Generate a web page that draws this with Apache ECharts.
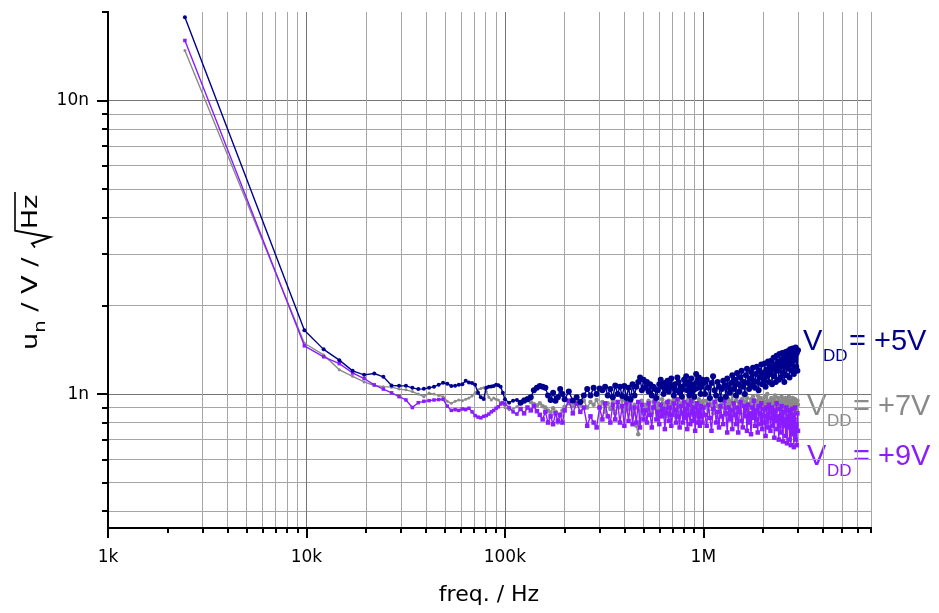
<!DOCTYPE html>
<html>
<head>
<meta charset="utf-8">
<script src="https://cdn.jsdelivr.net/npm/echarts@6/dist/echarts.min.js"></script>
<style>
html,body{margin:0;padding:0;background:#fff;}
#chart{width:939px;height:613px;}
</style>
</head>
<body>
<div id="chart"></div>
<script>
// ---------------- data ----------------
// frequencies in Hz (FFT bins at low f, then the dense part)
const freqs = [
  2441, 9766, 12207, 14648, 17090, 19531, 21973, 24414, 26855, 29297,
  31738, 34180, 36621, 39063, 41504, 43945, 46387, 48828, 51270, 53711,
  56152, 58594, 61035, 63477, 65918, 68359, 70801, 73242, 75684, 78125,
  80566, 83008, 85449, 87891, 90332, 92773, 95215, 97656, 100098,
  105000, 110000, 115000, 120000, 125000, 130000, 135000, 140000, 145000, 150000,
  155000, 160000, 165000, 170000, 175000, 180000, 185000, 190000, 195000, 200000,
  210000, 220000, 230000, 240000, 250000, 260000, 270000, 280000, 290000, 300000,
  310000, 320000, 330000, 340000, 350000, 360000, 370000, 380000, 390000, 400000,
  410000, 420000, 430000, 440000, 450000, 460000, 470000, 480000, 490000, 500000,
  510000, 520000, 530000, 540000, 550000, 560000, 570000, 580000, 590000, 600000,
  610000, 620000, 630000, 640000, 650000, 660000, 670000, 680000, 690000, 700000,
  710000, 720000, 730000, 740000, 750000, 760000, 770000, 780000, 790000, 800000,
  810000, 820000, 830000, 840000, 850000, 860000, 870000, 880000, 890000, 900000,
  910000, 920000, 930000, 940000, 950000, 960000, 970000, 980000, 990000, 1000000,
  1020000, 1040000, 1060000, 1080000, 1100000, 1120000, 1140000, 1160000, 1180000, 1200000,
  1220000, 1240000, 1260000, 1280000, 1300000, 1320000, 1340000, 1360000, 1380000, 1400000,
  1420000, 1440000, 1460000, 1480000, 1500000, 1520000, 1540000, 1560000, 1580000, 1600000,
  1620000, 1640000, 1660000, 1680000, 1700000, 1720000, 1740000, 1760000, 1780000, 1800000,
  1820000, 1840000, 1860000, 1880000, 1900000, 1920000, 1940000, 1960000, 1980000, 2000000,
  2020000, 2040000, 2060000, 2080000, 2100000, 2120000, 2140000, 2160000, 2180000, 2200000,
  2220000, 2240000, 2260000, 2280000, 2300000, 2320000, 2340000, 2360000, 2380000, 2400000,
  2420000, 2440000, 2460000, 2480000, 2500000, 2520000, 2540000, 2560000, 2580000, 2600000,
  2620000, 2640000, 2660000, 2680000, 2700000, 2720000, 2740000, 2760000, 2780000, 2800000,
  2820000, 2840000, 2860000, 2880000, 2900000, 2920000, 2940000, 2960000, 2980000, 3000000
];

// noise density in nV/sqrt(Hz)
const vdd5 = [
  19.2, 1.65, 1.42, 1.305, 1.20, 1.163, 1.175, 1.145, 1.07, 1.067,
  1.067, 1.05, 1.04, 1.042, 1.05, 1.06, 1.075, 1.092, 1.085, 1.065,
  1.067, 1.075, 1.08, 1.11, 1.095, 1.09, 1.075, 1.01, 0.975, 0.962,
  1.05, 1.06, 1.062, 1.065, 1.075, 1.072, 1.06, 1.01, 0.96,
  0.935, 0.95, 0.955, 0.935, 0.95, 0.96, 0.975, 1.03, 1.05, 1.065,
  1.06, 1.05, 0.99, 0.955, 1.01, 0.95, 0.975, 1.04, 1.0, 0.96,
  1.02, 0.95, 0.975, 0.94, 0.99, 1.04, 0.99, 1.05, 1.0, 1.045,
  1.03, 1.06, 0.99, 1.04, 0.975, 1.07, 1.0, 1.06, 0.985, 1.065,
  0.97, 1.05, 0.96, 1.08, 0.99, 1.06, 1.1, 1.14, 1.03, 1.12,
  1.05, 1.1, 1.02, 1.08, 0.99, 1.06, 1.04, 0.97, 1.03, 1.08,
  1.12, 1.06, 1.0, 1.09, 1.04, 1.11, 1.02, 1.07, 1.13, 1.05,
  0.99, 1.08, 1.03, 1.14, 1.1, 1.01, 1.06, 0.98, 1.04, 1.12,
  1.08, 1.15, 1.03, 1.1, 0.99, 1.06, 1.13, 1.02, 1.08, 0.98,
  1.04, 1.17, 1.1, 1.05, 1.14, 1.08, 1.0, 1.06, 1.12, 1.09,
  1.0, 1.12, 1.05, 0.97, 1.09, 1.15, 1.03, 0.99, 1.1, 1.06,
  0.96, 1.04, 1.11, 1.07, 0.98, 1.13, 1.05, 1.01, 1.09, 1.16,
  1.04, 1.12, 0.99, 1.18, 1.08, 1.02, 1.14, 1.2, 1.06, 1.1,
  1.0, 1.16, 1.22, 1.09, 1.04, 1.13, 1.19, 1.07, 1.23, 1.11,
  1.05, 1.17, 1.24, 1.1, 1.03, 1.2, 1.14, 1.26, 1.08, 1.18,
  1.12, 1.27, 1.06, 1.21, 1.15, 1.29, 1.1, 1.24, 1.17, 1.3,
  1.08, 1.22, 1.33, 1.15, 1.26, 1.1, 1.35, 1.2, 1.29, 1.12,
  1.37, 1.24, 1.14, 1.31, 1.38, 1.18, 1.27, 1.1, 1.34, 1.39,
  1.16, 1.3, 1.4, 1.22, 1.35, 1.14, 1.42, 1.26, 1.37, 1.2,
  1.43, 1.3, 1.17, 1.4, 1.33, 1.44, 1.24, 1.38, 1.2, 1.41
];

const vdd7 = [
  14.8, 1.49, 1.36, 1.21, 1.15, 1.10, 1.07, 1.06, 1.056, 1.04,
  1.034, 1.02, 1.0, 0.98, 1.008, 1.0, 0.99, 0.98, 0.945, 0.93,
  0.945, 0.955, 0.95, 0.96, 0.97, 0.985, 1.01, 1.035, 1.045, 1.05,
  1.02, 0.975, 0.955, 0.97, 0.96, 0.955, 0.935, 0.93, 0.9,
  0.885, 0.89, 0.905, 0.93, 0.96, 0.97, 0.94, 0.925, 0.915, 0.93,
  0.91, 0.9, 0.88, 0.865, 0.895, 0.87, 0.8, 0.85, 0.88, 0.905,
  0.93, 0.91, 0.945, 0.92, 0.95, 0.9, 0.94, 0.92, 0.955, 0.9,
  0.94, 0.87, 0.93, 0.89, 0.95, 0.86, 0.93, 0.9, 0.955, 0.87,
  0.94, 0.89, 0.96, 0.85, 0.92, 0.78, 0.73, 0.88, 0.95, 0.86,
  0.92, 0.88, 0.95, 0.9, 0.86, 0.94, 0.97, 0.89, 0.93, 0.85,
  0.91, 0.96, 0.88, 0.93, 0.84, 0.9, 0.95, 0.92, 0.87, 0.94,
  0.96, 0.89, 0.83, 0.92, 0.95, 0.9, 0.87, 0.93, 0.97, 0.88,
  0.91, 0.85, 0.94, 0.96, 0.89, 0.92, 0.86, 0.95, 0.9, 0.97,
  0.88, 0.93, 0.84, 0.91, 0.96, 0.89, 0.94, 0.87, 0.92, 0.95,
  0.9, 0.95, 0.88, 0.97, 0.92, 0.86, 0.94, 0.99, 0.91, 0.87,
  0.95, 0.9, 0.98, 0.93, 0.85, 0.92, 0.96, 0.89, 0.94, 1.0,
  0.91, 0.87, 0.95, 0.98, 0.9, 0.93, 0.86, 0.96, 0.92, 0.99,
  0.88, 0.94, 0.97, 0.9, 0.84, 0.93, 0.96, 0.91, 0.98, 0.89,
  0.95, 0.92, 0.87, 0.99, 0.94, 0.9, 0.97, 0.85, 0.93, 0.96,
  0.91, 0.98, 0.88, 0.94, 1.0, 0.92, 0.86, 0.95, 0.9, 0.97,
  0.93, 0.88, 0.96, 0.91, 0.99, 0.87, 0.94, 0.92, 0.97, 0.89,
  0.95, 0.84, 0.93, 0.98, 0.9, 0.96, 0.88, 0.94, 0.91, 0.97,
  0.86, 0.93, 0.96, 0.9, 0.98, 0.88, 0.95, 0.92, 0.85, 0.94,
  0.97, 0.9, 0.93, 0.87, 0.96, 0.91, 0.94, 0.88, 0.95, 0.92
];

const vdd9 = [
  16.0, 1.46, 1.34, 1.27, 1.18, 1.13, 1.075, 1.04, 1.01, 0.98,
  0.955, 0.9, 0.935, 0.945, 0.95, 0.955, 0.958, 0.96, 0.91, 0.88,
  0.885, 0.88, 0.89, 0.885, 0.895, 0.87, 0.845, 0.835, 0.83, 0.84,
  0.845, 0.855, 0.87, 0.88, 0.895, 0.905, 0.925, 0.935, 0.925,
  0.9, 0.87, 0.855, 0.89, 0.86, 0.9, 0.88, 0.91, 0.875, 0.85,
  0.82, 0.87, 0.8, 0.84, 0.79, 0.86, 0.81, 0.85, 0.8, 0.88,
  0.95, 0.86, 0.93, 0.87, 0.9, 0.78, 0.84, 0.8, 0.77, 0.9,
  0.82, 0.93, 0.84, 0.8, 0.92, 0.82, 0.94, 0.8, 0.91, 0.78,
  0.93, 0.81, 0.95, 0.79, 0.9, 0.8, 0.94, 0.77, 0.92, 0.82,
  0.88, 0.8, 0.93, 0.85, 0.77, 0.9, 0.95, 0.82, 0.87, 0.79,
  0.92, 0.84, 0.89, 0.76, 0.86, 0.94, 0.81, 0.9, 0.78, 0.85,
  0.93, 0.88, 0.8, 0.96, 0.84, 0.77, 0.91, 0.86, 0.8, 0.94,
  0.83, 0.89, 0.76, 0.92, 0.85, 0.79, 0.95, 0.87, 0.81, 0.9,
  0.75, 0.86, 0.93, 0.8, 0.88, 0.78, 0.91, 0.84, 0.8, 0.9,
  0.85, 0.78, 0.92, 0.83, 0.75, 0.89, 0.94, 0.8, 0.87, 0.77,
  0.91, 0.84, 0.79, 0.95, 0.86, 0.74, 0.9, 0.82, 0.88, 0.76,
  0.93, 0.85, 0.79, 0.9, 0.74, 0.87, 0.94, 0.81, 0.77, 0.91,
  0.84, 0.89, 0.75, 0.92, 0.8, 0.86, 0.73, 0.9, 0.83, 0.95,
  0.78, 0.88, 0.82, 0.74, 0.91, 0.86, 0.79, 0.93, 0.76, 0.85,
  0.89, 0.8, 0.72, 0.9, 0.84, 0.77, 0.92, 0.87, 0.75, 0.83,
  0.9, 0.78, 0.86, 0.71, 0.88, 0.81, 0.93, 0.76, 0.84, 0.7,
  0.89, 0.8, 0.74, 0.91, 0.85, 0.69, 0.87, 0.78, 0.82, 0.72,
  0.9, 0.68, 0.84, 0.77, 0.88, 0.7, 0.86, 0.67, 0.8, 0.89,
  0.73, 0.85, 0.66, 0.82, 0.9, 0.7, 0.79, 0.67, 0.86, 0.75
];

// axis ticks
const xMajorTicks = [1000, 10000, 100000, 1000000];
const xMinorTicks = [2000, 3000, 4000, 5000, 6000, 7000, 8000, 9000,
  20000, 30000, 40000, 50000, 60000, 70000, 80000, 90000,
  200000, 300000, 400000, 500000, 600000, 700000, 800000, 900000,
  2000000, 3000000, 4000000, 5000000, 6000000, 7000000];
const xTickLabels = {3: '1k', 4: '10k', 5: '100k', 6: '1M'};
const yMajorTicks = [1, 10];
const yMinorTicks = [0.4, 0.5, 0.6, 0.7, 0.8, 0.9, 2, 3, 4, 5, 6, 7, 8, 9, 20];
const yTickLabels = {0: '1n', 1: '10n'};

const seriesNames = ['VDD = +7V', 'VDD = +9V', 'VDD = +5V'];
const seriesColors = ['#8a8a8a', '#8a1cff', '#00008f'];

// ---------------- chart ----------------
const chart = echarts.init(document.getElementById('chart'), null, {renderer: 'canvas'});

function pairs(ys) { return freqs.map((f, i) => [f, ys[i]]); }

const FONT = '"DejaVu Sans", sans-serif';
const LFONT = '"Liberation Sans", Arial, sans-serif';
const MAJ = '#767676', MIN = '#a6a6a6';

function baseX(extra) {
  return Object.assign({
    type: 'log', logBase: 10, min: 1000, max: 7000000, position: 'bottom',
    axisLine: {show: true, lineStyle: {color: '#000', width: 2}},
    minorTick: {show: false}, minorSplitLine: {show: false}
  }, extra);
}
function baseY(extra) {
  return Object.assign({
    type: 'log', logBase: 10, min: 0.35, max: 20, position: 'left',
    axisLine: {show: true, lineStyle: {color: '#000', width: 2}},
    minorTick: {show: false}, minorSplitLine: {show: false}
  }, extra);
}

// y axis title pieces (measured for layout)
const meas = document.createElement('canvas').getContext('2d');
function tw(t, size) { meas.font = size + 'px "DejaVu Sans"'; return meas.measureText(t).width; }
const tS = 21, tSub = 15;
let cx = 0;
const tParts = [];
tParts.push({t: 'u', x: cx, s: tS, b: 0}); cx += tw('u', tS);
tParts.push({t: 'n', x: cx, s: tSub, b: 7}); cx += tw('n', tSub);
tParts.push({t: ' / V / ', x: cx, s: tS, b: 0}); cx += tw(' / V / ', tS);
const radX = cx; cx += 15;
tParts.push({t: 'Hz', x: cx, s: tS, b: 0}); cx += tw('Hz', tS) + 2;
const tTotal = cx;
const tScale = 158 / tTotal;
const titleChildren = tParts.map(p => ({
  type: 'text', x: p.x - tTotal / 2, y: p.b - 0.346 * p.s,
  style: {text: p.t, font: p.s + 'px ' + FONT, fill: '#000', align: 'left', verticalAlign: 'middle'}
}));
titleChildren.push({
  type: 'polyline',
  shape: {points: [
    [radX - tTotal / 2 + 1, -4], [radX - tTotal / 2 + 4, -7], [radX - tTotal / 2 + 9, 11],
    [radX - tTotal / 2 + 14, -24], [tTotal / 2, -24]
  ]},
  style: {stroke: '#000', lineWidth: 1.6, fill: null}
});

function vddLabel(vx, baseY0, num, color) {
  return [
    {type: 'text', x: vx, y: baseY0 - 10, style: {text: 'V', font: '29px ' + LFONT, fill: color, align: 'left', verticalAlign: 'middle'}},
    {type: 'text', x: vx + 20, y: baseY0 + 10 - 6, style: {text: 'DD', font: '17px ' + LFONT, fill: color, align: 'left', verticalAlign: 'middle'}},
    {type: 'text', x: vx + 46, y: baseY0 - 10, style: {text: '= +' + num + 'V', font: '29px ' + LFONT, fill: color, align: 'left', verticalAlign: 'middle'}}
  ];
}

const sym = (small, big) => (v => (v[0] < 120000 ? small : big));

const option = {
  animation: false,
  backgroundColor: '#ffffff',
  grid: {left: 108, top: 12, right: 68, bottom: 85, containLabel: false, show: false},
  xAxis: [
    baseX({
      axisTick: {show: true, length: 5, lineStyle: {color: '#000', width: 2}, customValues: xMinorTicks},
      axisLabel: {show: false},
      splitLine: {show: true, showMinLine: false, lineStyle: {color: MIN, width: 1}}
    }),
    baseX({
      axisTick: {show: true, length: 10, lineStyle: {color: '#000', width: 2}, customValues: xMajorTicks},
      axisLabel: {show: true, customValues: xMajorTicks, margin: 21, fontSize: 17, fontFamily: FONT, color: '#000',
        formatter: v => xTickLabels[Math.round(Math.log10(v))] || ''},
      splitLine: {show: true, showMinLine: false, lineStyle: {color: MAJ, width: 1}}
    })
  ],
  yAxis: [
    baseY({
      axisTick: {show: true, length: 6, lineStyle: {color: '#000', width: 2}, customValues: yMinorTicks},
      axisLabel: {show: false},
      splitLine: {show: true, showMaxLine: false, lineStyle: {color: MIN, width: 1}}
    }),
    baseY({
      axisTick: {show: true, length: 11, lineStyle: {color: '#000', width: 2}, customValues: yMajorTicks},
      axisLabel: {show: true, customValues: yMajorTicks, margin: 19, fontSize: 17, fontFamily: FONT, color: '#000',
        formatter: v => yTickLabels[Math.round(Math.log10(v))] || ''},
      splitLine: {show: true, lineStyle: {color: MAJ, width: 1}}
    })
  ],
  series: [
    {name: seriesNames[0], type: 'line', data: pairs(vdd7), symbol: 'circle', symbolSize: sym(3, 4.5),
     lineStyle: {width: 1.4, color: seriesColors[0]}, itemStyle: {color: seriesColors[0]}, z: 3},
    {name: seriesNames[1], type: 'line', data: pairs(vdd9), symbol: 'rect', symbolSize: sym(3.5, 4.5),
     lineStyle: {width: 1.4, color: seriesColors[1]}, itemStyle: {color: seriesColors[1]}, z: 4},
    {name: seriesNames[2], type: 'line', data: pairs(vdd5), symbol: 'circle', symbolSize: sym(4, 6),
     lineStyle: {width: 1.4, color: seriesColors[2]}, itemStyle: {color: seriesColors[2]}, z: 5}
  ],
  graphic: [
    {type: 'group', x: 39, y: 271, rotation: Math.PI / 2, scaleX: tScale, children: titleChildren},
    {type: 'text', x: 489, y: 595, style: {text: 'freq. / Hz', font: '22px ' + FONT, fill: '#000', align: 'center', verticalAlign: 'middle'}}
  ].concat(
    vddLabel(803, 352, 5, seriesColors[2]),
    vddLabel(807, 417, 7, seriesColors[0]),
    vddLabel(807, 467, 9, seriesColors[1])
  )
};
chart.setOption(option);
</script>
</body>
</html>
